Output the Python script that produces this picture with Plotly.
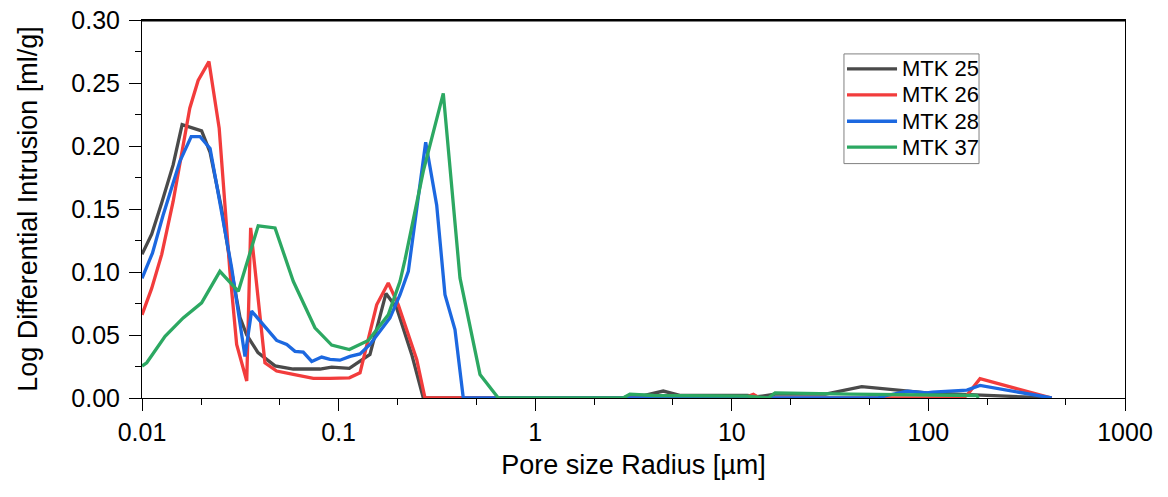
import plotly.graph_objects as go

# pore radius [um] and log differential intrusion [ml/g]
mtk25_r = [0.01, 0.0112, 0.0126, 0.0144, 0.016, 0.0201, 0.0222, 0.0254, 0.0286, 0.0315,
           0.0341, 0.0389, 0.0475, 0.0588, 0.0804, 0.0922, 0.1134, 0.1444, 0.1742, 0.1974,
           0.2354, 0.2697, 1.0, 2.8, 3.03, 3.6, 4.48, 5.5, 8.0, 12.0, 13.5, 16.6, 30.0,
           45.8, 98.0, 150.0, 183.0, 424.0]
mtk25_v = [0.114, 0.130, 0.155, 0.185, 0.217, 0.212, 0.195, 0.150, 0.100, 0.064,
           0.050, 0.036, 0.0255, 0.023, 0.023, 0.0245, 0.0235, 0.0346, 0.083, 0.0715,
           0.0346, 0.0, 0.0, 0.0, 0.002, 0.002, 0.0055, 0.002, 0.002, 0.002, 0.001, 0.003, 0.003,
           0.009, 0.004, 0.003, 0.002, 0.0]

mtk26_r = [0.01, 0.0112, 0.0126, 0.0144, 0.0175, 0.0193, 0.0219, 0.0247, 0.028, 0.0303,
           0.0341, 0.0357, 0.0422, 0.0484, 0.0588, 0.0744, 0.0904, 0.1134, 0.1285, 0.1562,
           0.1789, 0.2012, 0.2496, 0.2751, 11.5, 12.87, 13.8, 150.0, 156.6, 183.0, 424.0]
mtk26_v = [0.066, 0.087, 0.114, 0.156, 0.230, 0.252, 0.267, 0.214, 0.1005, 0.0425,
           0.0135, 0.135, 0.028, 0.0214, 0.0187, 0.0156, 0.0156, 0.016, 0.020, 0.074,
           0.0913, 0.074, 0.0306, 0.0, 0.0, 0.003, 0.0, 0.0, 0.002, 0.0153, 0.0]

mtk28_r = [0.01, 0.0113, 0.0128, 0.0156, 0.0178, 0.0197, 0.0222, 0.0254, 0.0286, 0.0334,
           0.0361, 0.0484, 0.0545, 0.060, 0.0661, 0.073, 0.082, 0.0904, 0.1016, 0.1143,
           0.1285, 0.1444, 0.1825, 0.2053, 0.2263, 0.2773, 0.3155, 0.3476, 0.3908, 0.4307,
           55.0, 61.5, 78.0, 98.0, 105.0, 157.0, 183.0, 424.0]
mtk28_v = [0.095, 0.115, 0.145, 0.188, 0.2075, 0.2075, 0.198, 0.148, 0.103, 0.033,
           0.069, 0.0457, 0.0425, 0.037, 0.0364, 0.029, 0.0325, 0.0306, 0.030, 0.033,
           0.035, 0.0425, 0.0636, 0.082, 0.1005, 0.203, 0.153, 0.082, 0.0544, 0.0,
           0.0, 0.002, 0.0055, 0.004, 0.0047, 0.0063, 0.010, 0.0]

mtk37_r = [0.01, 0.01057, 0.0131, 0.0162, 0.0201, 0.0249, 0.0309, 0.039, 0.0475, 0.0588,
           0.0758, 0.0922, 0.1134, 0.1416, 0.1789, 0.2053, 0.2177, 0.2697, 0.3408, 0.4144,
           0.5239, 0.6491, 2.8, 3.03, 4.0, 6.0, 12.0, 15.3, 16.6, 40.0, 100.0, 176.0, 180.0]
mtk37_v = [0.0253, 0.028, 0.049, 0.0636, 0.0755, 0.1005, 0.0847, 0.1367, 0.135, 0.0926,
           0.0557, 0.042, 0.0385, 0.0457, 0.066, 0.0926, 0.1098, 0.180, 0.2417, 0.0953,
           0.0187, 0.0, 0.0, 0.003, 0.002, 0.002, 0.0015, 0.0, 0.004, 0.003, 0.002, 0.002, 0.0]

series = [
    ("MTK 25", mtk25_r, mtk25_v, "#4a4a4a"),
    ("MTK 26", mtk26_r, mtk26_v, "#f23c3c"),
    ("MTK 28", mtk28_r, mtk28_v, "#1c68e0"),
    ("MTK 37", mtk37_r, mtk37_v, "#2ca862"),
]

x_ticks = [0.01, 0.1, 1, 10, 100, 1000]
x_labels = ["0.01", "0.1", "1", "10", "100", "1000"]

font_family = "Liberation Sans, Arial, sans-serif"

fig = go.Figure()
for name, r, v, color in series:
    fig.add_trace(go.Scatter(x=r, y=v, mode="lines", name=name, showlegend=False,
                             line=dict(color=color, width=3.3)))

# top frame line, drawn explicitly just inside the plot area
fig.add_shape(type="line", xref="paper", yref="paper", x0=0, x1=1, y0=0.998, y1=0.998,
              line=dict(color="black", width=1.5), layer="above")

# legend drawn by hand so the rows sit as tight as in the original
leg_x0, leg_x1 = 0.7141, 0.8515
leg_top, leg_bottom = 0.9103, 0.6201
row_y = [0.8707, 0.8021, 0.7322, 0.6636]
fig.add_shape(type="rect", xref="paper", yref="paper",
              x0=leg_x0, x1=leg_x1, y0=leg_bottom, y1=leg_top,
              line=dict(color="#808080", width=1), fillcolor="white", layer="above")
for (name, _, _, color), yy in zip(series, row_y):
    fig.add_shape(type="line", xref="paper", yref="paper",
                  x0=0.7172, x1=0.7681, y0=yy, y1=yy,
                  line=dict(color=color, width=3.3), layer="above")
    fig.add_annotation(text=name, xref="paper", yref="paper", x=0.7711, y=yy,
                       xanchor="left", yanchor="middle", showarrow=False,
                       font=dict(size=22))

# page body has an 8px margin, so the figure is made 16px smaller
fig.update_layout(
    width=1152, height=481,
    margin=dict(l=134, r=35, t=12, b=91),
    paper_bgcolor="white", plot_bgcolor="white",
    font=dict(family=font_family, size=25, color="black"),
)
fig.update_xaxes(
    type="log", range=[-2, 3], automargin=False,
    tickvals=x_ticks, ticktext=x_labels,
    ticks="outside", ticklen=12, tickwidth=1, tickcolor="black",
    ticklabelstandoff=0, ticklabeloverflow="allow",
    minor=dict(ticks="outside", ticklen=6, tickcolor="black", showgrid=False),
    showline=True, linecolor="black", linewidth=1, mirror=True,
    showgrid=False, zeroline=False,
    title=dict(text="Pore size Radius [µm]", standoff=10, font=dict(size=27)),
)
fig.update_yaxes(
    range=[0, 0.30], dtick=0.05, tickformat=".2f", automargin=False,
    ticks="outside", ticklen=12, tickwidth=1, tickcolor="black",
    ticklabelstandoff=4, ticklabeloverflow="allow",
    minor=dict(ticks="outside", ticklen=6, tickcolor="black", dtick=0.025, showgrid=False),
    showline=True, linecolor="black", linewidth=1, mirror=True,
    showgrid=False, zeroline=False,
    title=dict(text="Log Differential Intrusion [ml/g]", standoff=25, font=dict(size=27)),
)

fig.write_html("out.html")
